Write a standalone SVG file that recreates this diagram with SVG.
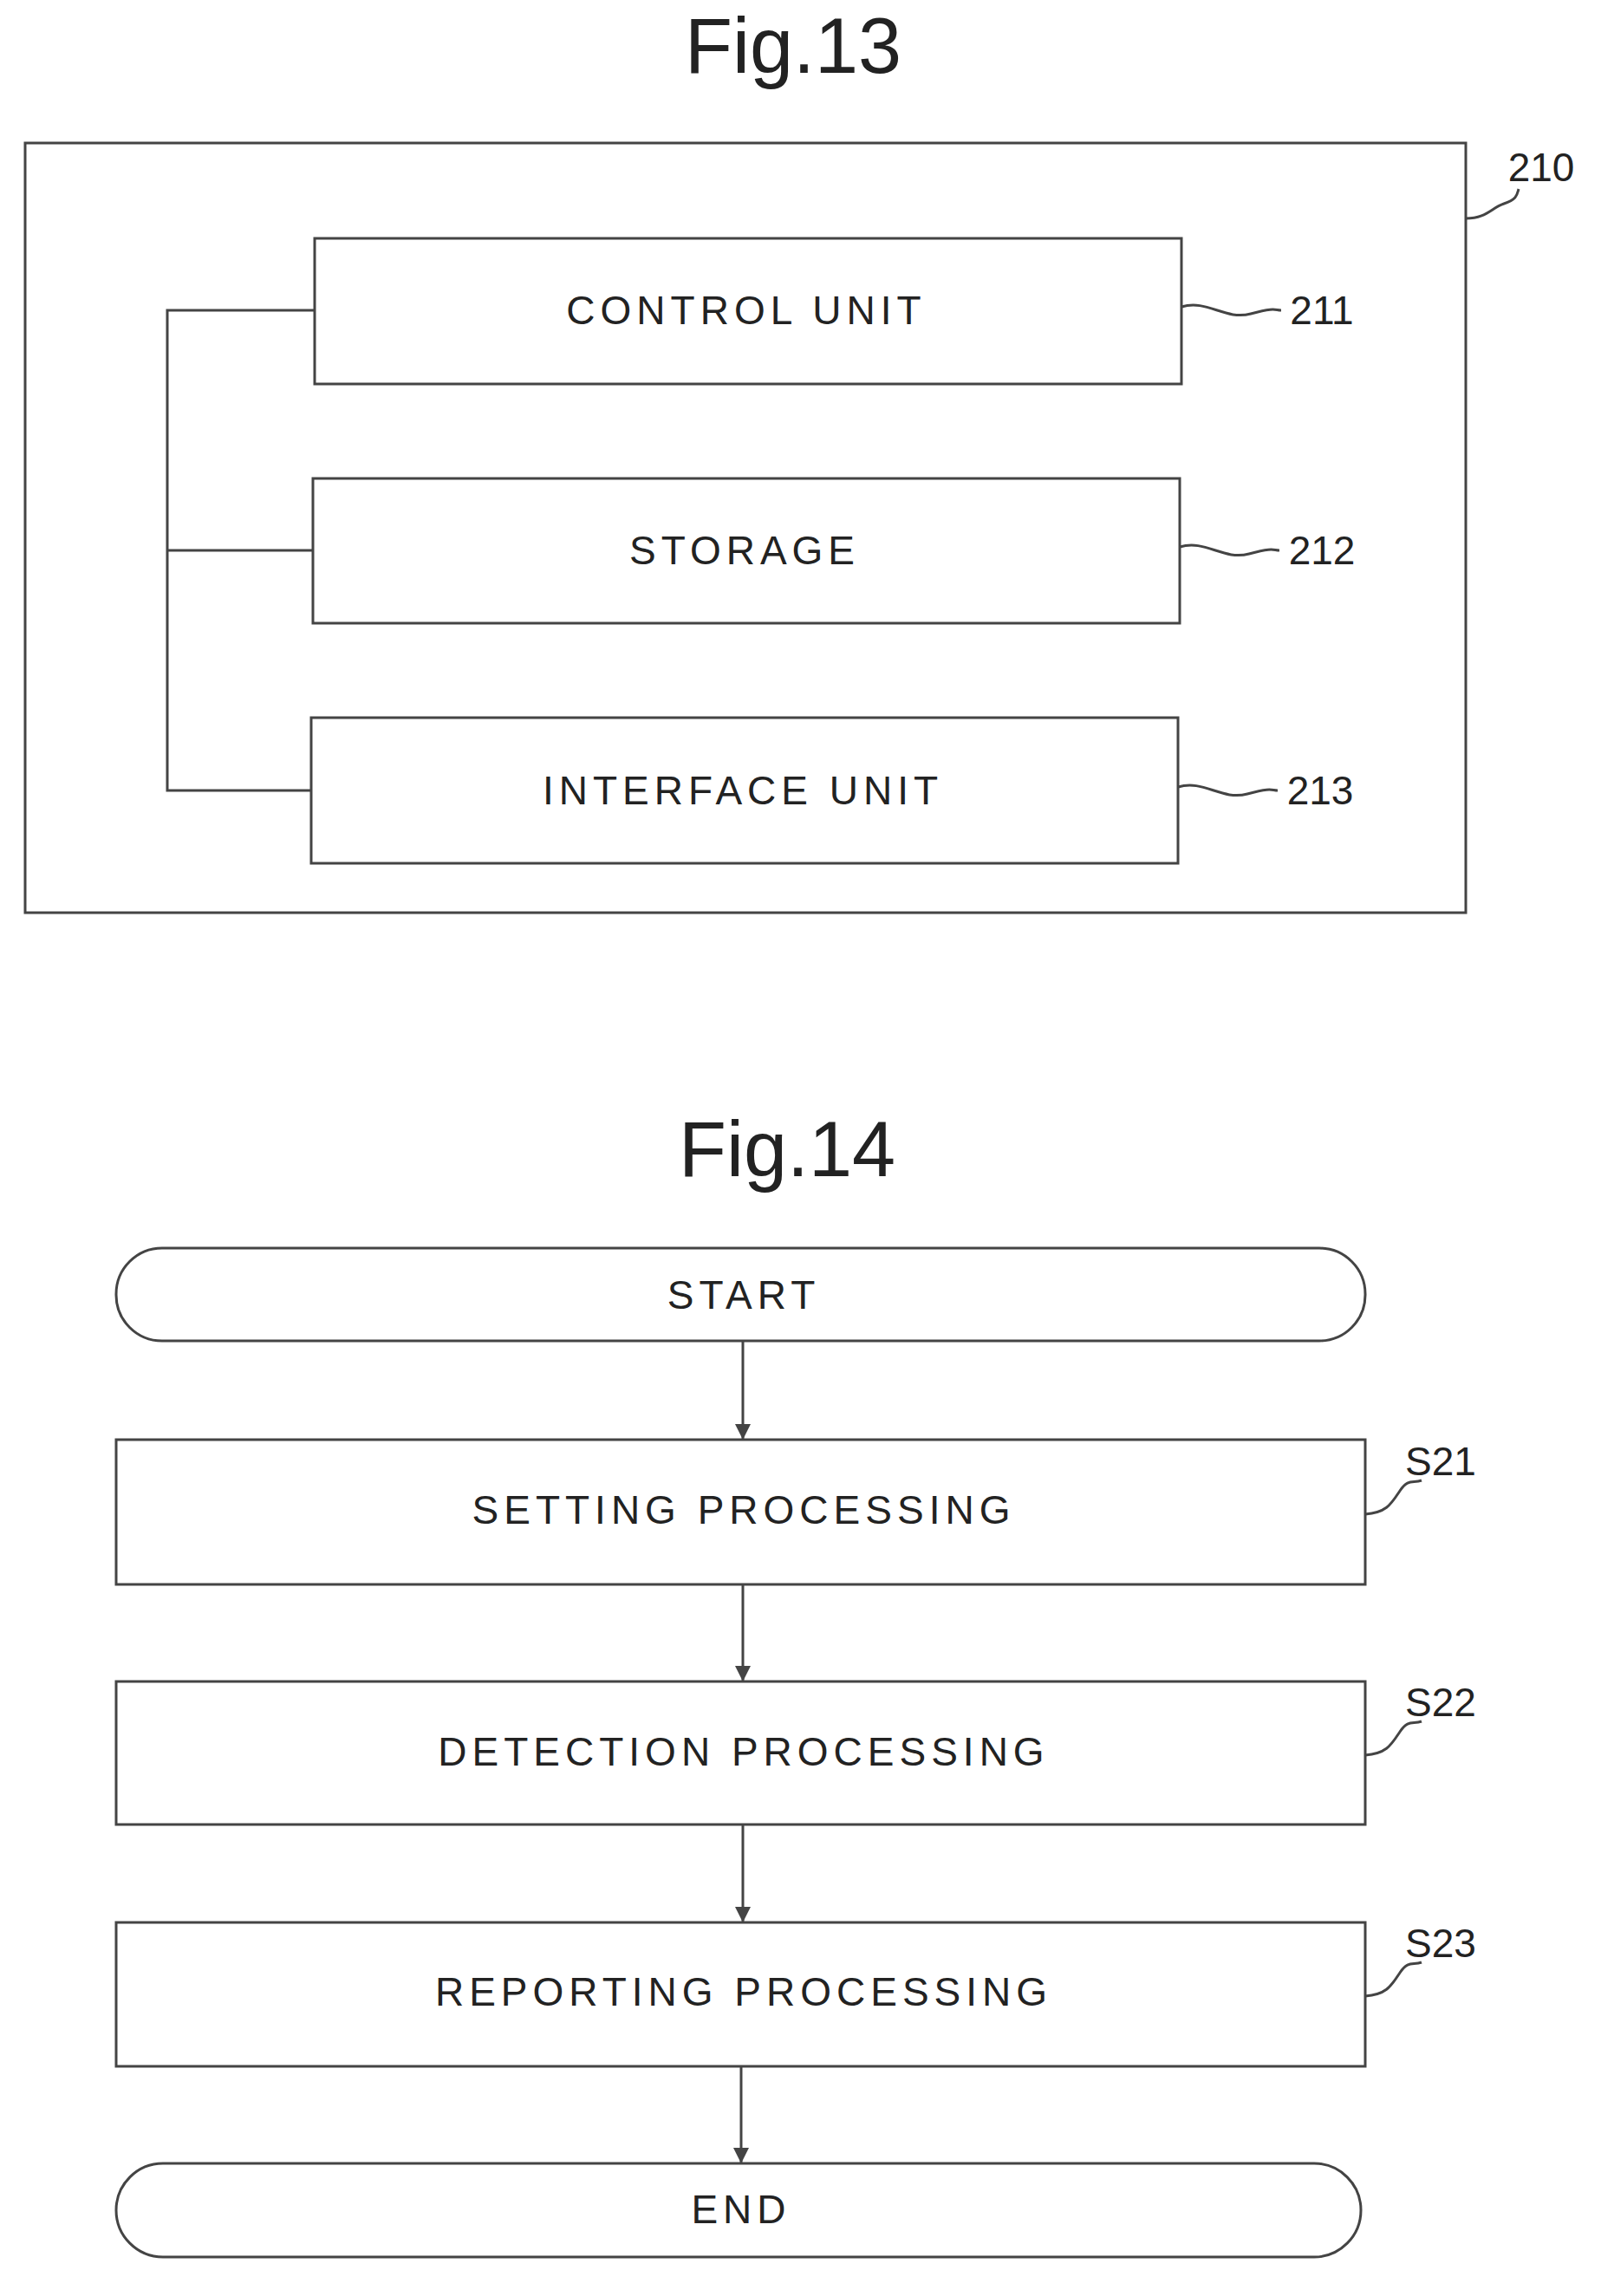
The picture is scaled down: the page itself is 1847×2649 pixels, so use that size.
<svg xmlns="http://www.w3.org/2000/svg" width="1847" height="2649" viewBox="0 0 1847 2649">
<defs>
<style>
.b{fill:#fff;stroke:#444;stroke-width:3}
.l{fill:none;stroke:#444;stroke-width:3}
.t{font-family:"Liberation Sans",Arial,sans-serif;font-size:46px;fill:#222;text-anchor:middle;dominant-baseline:central;letter-spacing:6px}
.n{font-family:"Liberation Sans",Arial,sans-serif;font-size:46px;fill:#222;text-anchor:middle;dominant-baseline:central}
.h{font-family:"Liberation Sans",Arial,sans-serif;font-size:90px;fill:#222;text-anchor:middle}
</style>
<marker id="a" viewBox="0 0 10 10" refX="10" refY="5" markerWidth="18" markerHeight="18" orient="auto" markerUnits="userSpaceOnUse"><path d="M0,0L10,5L0,10z" fill="#444"/></marker>
</defs>
<rect width="1847" height="2649" fill="#fff"/>
<text class="h" x="915" y="84">Fig.13</text>
<g id="n210"><rect class="b" x="29" y="165" width="1662" height="888"/><text class="n" x="1778" y="193">210</text><path class="l" d="M1691,252 C1715,252 1720,240 1735,235 S1750,225 1752,218"/></g>
<g id="n211"><rect class="b" x="363" y="275" width="1000" height="168"/><text class="t" x="861" y="358">CONTROL UNIT</text><path class="l" d="M1363,354 C1393,345 1413,370 1443,362 S1470,358 1478,358"/><text class="n" x="1525" y="358">211</text></g>
<g id="n212"><rect class="b" x="361" y="552" width="1000" height="167"/><text class="t" x="859" y="635">STORAGE</text><path class="l" d="M1361,631 C1391,622 1411,647 1441,639 S1468,635 1476,635"/><text class="n" x="1525" y="635">212</text></g>
<g id="n213"><rect class="b" x="359" y="828" width="1000" height="168"/><text class="t" x="857" y="912">INTERFACE UNIT</text><path class="l" d="M1359,908 C1389,899 1409,924 1439,916 S1466,912 1474,912"/><text class="n" x="1523" y="912">213</text></g>
<text class="h" x="908" y="1357">Fig.14</text>
<g id="start"><rect class="b" x="134" y="1440" width="1441" height="107" rx="53"/><text class="t" x="858" y="1494">START</text></g>
<g id="s21"><rect class="b" x="134" y="1661" width="1441" height="167"/><text class="t" x="858" y="1742">SETTING PROCESSING</text><path class="l" d="M1575,1747 C1600,1745 1605,1735 1615,1720 S1630,1712 1640,1708"/><text class="n" x="1662" y="1686">S21</text></g>
<g id="s22"><rect class="b" x="134" y="1940" width="1441" height="165"/><text class="t" x="858" y="2021">DETECTION PROCESSING</text><path class="l" d="M1575,2025 C1600,2023 1605,2013 1615,1998 S1630,1990 1640,1986"/><text class="n" x="1662" y="1964">S22</text></g>
<g id="s23"><rect class="b" x="134" y="2218" width="1441" height="166"/><text class="t" x="858" y="2298">REPORTING PROCESSING</text><path class="l" d="M1575,2303 C1600,2301 1605,2291 1615,2276 S1630,2268 1640,2264"/><text class="n" x="1662" y="2242">S23</text></g>
<g id="end"><rect class="b" x="134" y="2496" width="1436" height="108" rx="54"/><text class="t" x="855" y="2549">END</text></g>
<g id="connectors">
<path class="l" d="M363,358 H193 V912 H359 M193,635 H361"/>
<path class="l" marker-end="url(#a)" d="M857,1547 V1661"/>
<path class="l" marker-end="url(#a)" d="M857,1828 V1940"/>
<path class="l" marker-end="url(#a)" d="M857,2105 V2218"/>
<path class="l" marker-end="url(#a)" d="M855,2384 V2496"/>
</g>
</svg>
